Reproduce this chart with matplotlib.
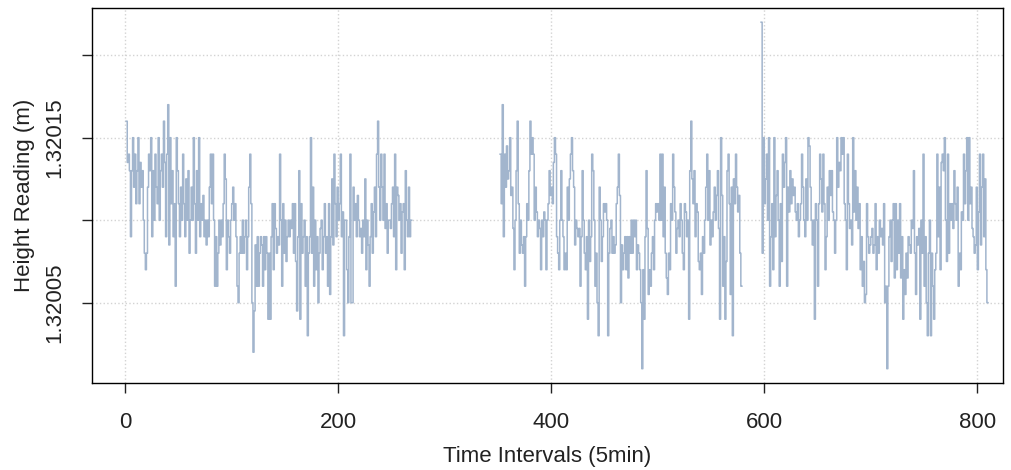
import numpy as np
import matplotlib
matplotlib.use("Agg")
import matplotlib.pyplot as plt

plt.rcParams['font.family'] = ['Liberation Sans', 'DejaVu Sans']

# readings in units of 1e-5 m above 1.32 m, one per 5 min interval
base = 1.32
seg1_start = 1
seg1 = [16, 13.5, 14, 13, 9, 13, 15, 12, 14, 11, 13, 15, 11, 13.5, 12, 13, 10, 8, 7, 8,
        12, 14, 13, 15, 9, 13, 10, 14, 12, 11, 15, 10, 13, 14, 12, 16, 13.5, 9, 14, 17,
        8.5, 15, 11, 13, 9, 11, 6, 15, 13, 11, 9, 12, 10, 14, 11, 9, 12.5, 10, 13, 8,
        10, 12, 10, 15, 11,
        8, 13, 10, 15, 9, 11, 10, 11.5, 9, 10, 8.5, 10, 9, 12, 14, 11, 14, 10, 6, 9,
        6, 8, 10, 8.5, 10, 9, 11, 14, 12.5, 7, 10, 9, 8, 10, 11, 12, 10, 11, 9, 6,
        5, 8, 9, 8, 10, 8, 9, 10, 7, 9, 12, 14, 11, 5, 2, 4.5, 8.5, 6, 9, 6,
        8, 9, 8.5, 6, 9, 7, 9, 8, 4, 8,
        4, 9, 11, 7, 11, 9.5, 8, 9, 8.5, 14, 10, 6, 11, 8, 10, 7.5, 9, 10, 9, 10,
        9.5, 11, 8, 11, 7.5, 4.5, 9, 13, 4, 11, 8, 9, 10, 6, 9, 3, 8, 9, 15, 8,
        12, 6, 10, 7, 9, 5, 8, 9.5, 10, 7, 9, 11, 8, 9, 6, 11, 5.5, 9, 12.5, 8.5,
        14, 11, 9, 12, 10, 11, 14, 9, 10.5, 3, 10,
        10, 7, 5, 9, 14, 5, 5, 12, 10, 11, 9, 11.5, 10, 9, 9.5, 8, 10, 9, 12.5, 7,
        10, 8.5, 6, 9, 11, 8, 10.5, 12, 9, 14, 16, 12, 10, 14, 12, 10, 14, 9.5, 11, 8,
        10, 10, 9.5, 11, 12, 9, 14, 7, 12, 11.5, 10, 11, 8, 10.5, 11, 7, 13, 10, 9, 12,
        9, 10]

seg2_start = 352
seg2 = [14, 11, 17, 9, 14, 12, 14.5, 12.5, 13, 15, 11.5, 12, 9.5, 7, 10, 13, 16, 11, 8, 10,
        8.5, 8, 9, 6, 9, 11, 10, 13, 16, 14, 15, 14, 10, 12, 10.5, 9, 10, 9.5, 7, 10,
        9, 10.5, 10, 7, 10, 11, 13, 11.5, 12, 11, 13.5, 15, 14, 9, 8, 7, 10,
        13, 10, 9, 7, 8, 7, 12, 10, 12.5, 14, 15, 13, 12, 8.5, 10, 9.5, 9, 9.5, 6, 9,
        13, 10, 8, 7, 9, 4, 10, 7.5, 9, 14, 13, 10, 6, 8, 5, 3, 12, 10, 7.5, 9,
        11, 10.5, 11, 10, 3, 8, 9.5, 10, 8, 9, 8, 8.5, 11, 12, 14, 11.5, 5, 8.5, 7, 8, 9,
        7, 9, 6.5, 9, 8, 10, 8, 10, 9, 10, 7, 8.5, 8, 7, 5, 1, 7, 4, 9, 13,
        9.5, 5.5, 7, 6, 8, 9, 7, 10, 11, 10.5, 11, 10, 14, 10, 14, 9, 12, 8, 6.5, 5.5,
        8, 7, 11, 10, 14, 12, 10.5, 8, 9.5, 10, 9, 11, 10, 8, 7, 11, 10.5, 9, 10, 4, 13,
        16, 12.5, 11, 13, 9, 11, 10.5, 7.5, 7, 8, 5.5, 9, 8, 10, 12, 14, 10, 13, 8.5, 10,
        9, 10.5, 12, 10, 11.5, 13, 9.5, 4, 15, 11.5, 6, 9, 4, 7.5, 13, 14, 11, 5.5, 12, 3,
        12.5, 11, 14, 12, 10.5, 11.5, 8, 6]

seg3_start = 597
seg3 = [22, 8, 15, 11, 12.5, 14, 10, 15, 6, 9, 11, 7, 15, 9, 11.5, 13, 10, 6, 11, 7.5,
        14, 12, 13.5, 15, 6, 12, 10.5, 13, 11, 12.5, 11.5, 12, 10.5, 10, 11, 9, 10, 11, 14, 12,
        10, 9, 12.5, 10, 15, 14.5, 12, 10, 8.5, 10, 4, 11, 10,
        6, 11, 14, 12.5, 10.5, 14, 11, 7, 9, 12, 10, 13, 11.5, 13, 10.5, 10, 8, 10, 15, 12,
        13.5, 13, 15, 14, 15, 11, 10, 7, 14, 11, 9.5, 10, 8.5, 15, 10.5, 13, 10, 12, 9.5, 11,
        7, 9, 6, 7.5, 5, 5.5, 11, 9, 8, 8.5, 9, 9.5, 8, 8.5, 11, 7,
        9, 8, 10, 9, 9.5, 8.5, 11, 5, 6, 1, 6, 9, 10, 7.5, 10, 11, 6.5, 11, 7, 10,
        8, 11, 6.5, 9, 4, 7, 5.5, 8, 6.5, 9, 8.5, 8, 10, 9.5, 13, 8, 5.5, 9, 8.5, 9.5,
        4, 10, 8, 14, 6, 9, 5, 3, 8, 10, 3, 8, 6, 4, 7, 8, 14,
        9, 12, 7, 13.5, 14, 13, 15, 10, 7.5, 14, 8, 11, 10, 11, 9.5, 13, 11, 10, 12, 6,
        8, 7, 10.5, 10, 14, 11, 13, 15, 10, 15, 11, 12, 9.5, 9, 8, 8.5, 12, 7, 10.5, 14,
        8.5, 12, 14, 9, 12.5, 7, 5]

n_total = seg3_start + len(seg3)
height = np.full(n_total, np.nan)
for start, seg in [(seg1_start, seg1), (seg2_start, seg2), (seg3_start, seg3)]:
    height[start - 1:start - 1 + len(seg)] = base + np.array(seg) * 1e-5
t = np.arange(1, n_total + 1)

fig = plt.figure(figsize=(10.12, 4.70), dpi=100)
ax = fig.add_axes([0.091, 0.185, 0.9, 0.798])

ax.plot(t, height, color='#a2b5cd', lw=1.1, drawstyle='steps-post')

ax.set_xlim(-31, 824)
ax.set_ylim(base + 0.13e-5, base + 22.86e-5)

ax.set_xticks([0, 200, 400, 600, 800])
ax.set_yticks([1.32005, 1.32010, 1.32015, 1.32020])
ax.set_yticklabels(["1.32005", "", "1.32015", ""], rotation=90, va='center')
ax.grid(True, color='#d3d3d3', linestyle=':', lw=1.0)
ax.tick_params(direction='out', length=7, width=1, labelsize=16, colors='#222222')
ax.tick_params(axis='y', pad=12)
ax.tick_params(axis='x', pad=14)
for s in ax.spines.values():
    s.set_linewidth(1.0)

ax.set_xlabel("Time Intervals (5min)", fontsize=16, color='#222222', labelpad=9)
ax.set_ylabel("Height Reading (m)", fontsize=16, color='#222222', labelpad=7)

fig.savefig("out.png", dpi=100)
